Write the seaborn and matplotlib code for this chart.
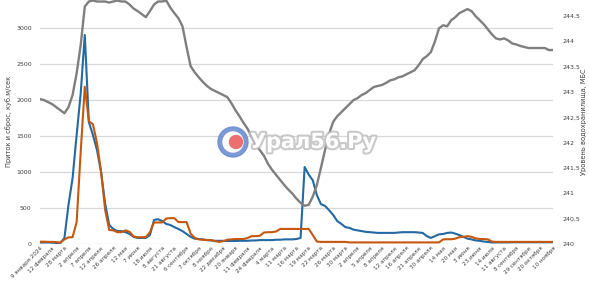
import numpy as np
import pandas as pd
import matplotlib
matplotlib.use("Agg")
import matplotlib.pyplot as plt
import seaborn as sns
from matplotlib import patches, transforms
import matplotlib.patheffects as pe

labels = ["9 января 2024", "12 февраля", "28 марта", "2 апреля", "7 апреля", "12 апреля",
          "26 апреля", "12 мая", "7 июня", "18 июля", "8 августа", "21 августа",
          "6 сентября", "7 октября", "8 ноября", "22 декабря", "20 января", "11 февраля",
          "24 февраля", "4 марта", "11 марта", "16 марта", "19 марта", "22 марта",
          "26 марта", "30 марта", "2 апреля", "5 апреля", "8 апреля", "12 апреля",
          "16 апреля", "21 апреля", "30 апреля", "14 мая", "20 мая", "3 июня",
          "23 июня", "14 июля", "11 августа", "8 сентября", "29 сентября", "20 октября",
          "10 ноября"]

inflow = [17, 17, 17, 14, 10, 10,
          80, 540, 910, 1510, 2090, 2900,
          1690, 1510, 1300, 995, 560, 260,
          205, 175, 175, 160, 135, 95,
          80, 80, 80, 120, 330, 340,
          315, 275, 260, 230, 205, 175,
          135, 95, 70, 65, 60, 50,
          45, 40, 40, 40, 38, 38,
          38, 40, 40, 40, 45, 45,
          50, 50, 50, 50, 55, 55,
          60, 60, 60, 65, 80, 1065,
          960, 880, 675, 550, 525, 465,
          400, 315, 275, 230, 220, 195,
          185, 175, 165, 160, 155, 150,
          150, 150, 150, 150, 155, 160,
          160, 160, 160, 155, 150, 105,
          80, 105, 130, 135, 150, 155,
          140, 120, 95, 70, 60, 45,
          40, 30, 25, 17, 18, 18,
          18, 18, 20, 20, 20, 20,
          20, 20, 20, 20, 20, 20, 20]

outflow = [28, 28, 25, 25, 22, 15,
           60, 88, 90, 300, 1280, 2180,
           1700, 1660, 1400, 1000, 470, 190,
           185, 160, 160, 185, 165, 100,
           90, 90, 90, 160, 295, 295,
           295, 350, 355, 355, 300, 300,
           300, 140, 80, 60, 55, 50,
           50, 35, 25, 35, 55, 60,
           65, 65, 65, 80, 105, 105,
           110, 155, 160, 160, 170, 205,
           205, 205, 205, 205, 205, 205,
           205, 120, 30, 25, 25, 25,
           25, 25, 25, 25, 18, 18,
           18, 18, 18, 18, 18, 18,
           18, 18, 18, 18, 18, 18,
           18, 18, 18, 18, 18, 18,
           18, 18, 18, 60, 62, 62,
           70, 90, 95, 105, 95, 75,
           65, 65, 60, 30, 25, 25,
           25, 25, 25, 25, 25, 25,
           25, 25, 25, 25, 25, 25, 25]

level = [242.86, 242.84, 242.80, 242.76, 242.70, 242.64,
         242.58, 242.70, 242.94, 243.37, 243.93, 244.69,
         244.79, 244.81, 244.79, 244.79, 244.79, 244.77,
         244.79, 244.81, 244.79, 244.79, 244.73, 244.65,
         244.60, 244.54, 244.48, 244.60, 244.73, 244.79,
         244.79, 244.81, 244.67, 244.56, 244.46, 244.30,
         243.89, 243.51, 243.39, 243.29, 243.20, 243.12,
         243.06, 243.02, 242.98, 242.94, 242.90, 242.78,
         242.64, 242.52, 242.39, 242.27, 242.11, 241.97,
         241.85, 241.74, 241.58, 241.46, 241.36, 241.26,
         241.16, 241.07, 240.99, 240.89, 240.81, 240.75,
         240.77, 240.93, 241.16, 241.50, 241.85, 242.17,
         242.41, 242.52, 242.60, 242.68, 242.76, 242.84,
         242.88, 242.94, 242.98, 243.04, 243.10, 243.12,
         243.14, 243.18, 243.23, 243.25, 243.29, 243.31,
         243.35, 243.39, 243.43, 243.53, 243.65, 243.71,
         243.79, 244.00, 244.26, 244.32, 244.30, 244.42,
         244.48, 244.56, 244.60, 244.64, 244.60, 244.50,
         244.42, 244.34, 244.24, 244.14, 244.06, 244.04,
         244.06, 244.02, 243.96, 243.94, 243.91, 243.89,
         243.87, 243.87, 243.87, 243.87, 243.87, 243.83, 243.83]

left_ticks = [0, 500, 1000, 1500, 2000, 2500, 3000]
right_ticks = [240, 240.5, 241, 241.5, 242, 242.5, 243, 243.5, 244, 244.5]

sns.set_style("white")
plt.rcParams['font.family'] = ['DejaVu Sans']

W, H = 589, 282
fig = plt.figure(figsize=(W / 100, H / 100), dpi=100)
ax = fig.add_axes([40 / W, (H - 243.7) / H, (553 - 40) / W, 243.7 / H])
ax2 = ax.twinx()

n = len(level)
df = pd.DataFrame({'idx': np.arange(n), 'inflow': inflow, 'outflow': outflow, 'level': level})

sns.lineplot(data=df, x='idx', y='inflow', ax=ax, color='#2369a3', lw=1.5)
sns.lineplot(data=df, x='idx', y='outflow', ax=ax, color='#c5580f', lw=1.5)
sns.lineplot(data=df, x='idx', y='level', ax=ax2, color='#7f7f7f', lw=1.7)

ax.set_xlim(0, n - 1)
ax.set_ylim(0, 3385)
ax2.set_ylim(240, 244.82)

step = (n - 1) // (len(labels) - 1)
ax.set_xticks(np.arange(0, n, step))
ax.set_xticklabels(labels, rotation=45, ha='right', rotation_mode='anchor', fontsize=4.1, color='#404040')
ax.set_yticks(left_ticks)
ax.set_yticklabels([str(t) for t in left_ticks], fontsize=4.5, color='#404040')
ax2.set_yticks(right_ticks)
ax2.set_yticklabels([('%g' % t).replace('.', ',') for t in right_ticks], fontsize=4.5, color='#404040')

ax.tick_params(axis='x', length=0, pad=1.5)
ax.tick_params(axis='y', length=0, pad=6)
ax2.tick_params(axis='y', length=0, pad=7)

ax.yaxis.grid(True, color='#d9d9d9', lw=0.9)
ax.xaxis.grid(False)
ax2.grid(False)
for a in (ax, ax2):
    for s in a.spines.values():
        s.set_visible(False)

ax.set_xlabel('')
ax.set_ylabel('Приток и сброс, куб.м/сек', fontsize=4.8, color='#404040')
ax.yaxis.set_label_coords((12 - 40) / 513, 0.5)
ax2.set_ylabel('Уровень водохранилища, МБС', fontsize=4.8, color='#404040')
ax2.yaxis.set_label_coords((581 - 40) / 513, 0.5)

# watermark
idt = transforms.IdentityTransform()
cx, cy = 233, H - 142
fig.add_artist(patches.Circle((cx, cy), 15, transform=idt, color='#6d8fd3', alpha=0.9, zorder=10))
fig.add_artist(patches.Circle((cx, cy), 10, transform=idt, color='white', zorder=11))
fig.add_artist(patches.Circle((cx + 3, cy), 6.5, transform=idt, color='#ea6f6f', zorder=12))
fig.text(250 / W, 1 - 142 / H, 'Урал56.Ру', fontsize=15, fontweight='bold', color='white',
         va='center', ha='left', zorder=13,
         path_effects=[pe.withStroke(linewidth=3, foreground='#bdbdbd', alpha=0.8)])

fig.savefig('out.png', dpi=100)
